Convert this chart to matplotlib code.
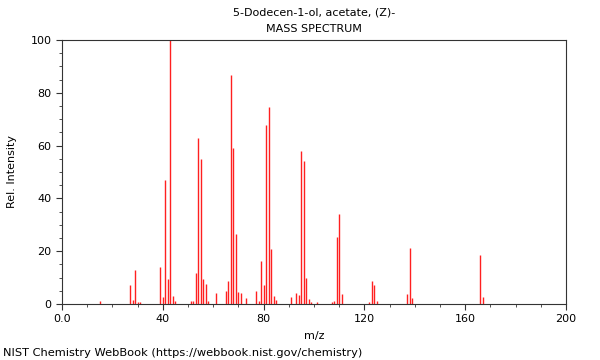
import matplotlib
matplotlib.use('Agg')
import matplotlib.pyplot as plt
from matplotlib.ticker import MultipleLocator

# peaks
mz = [15, 27, 28, 29, 30, 31, 39, 40, 41, 42, 43, 44, 45,
      51, 52, 53, 54, 55, 56, 57, 58, 61, 65, 66, 67, 68, 69, 70, 71, 73,
      77, 78, 79, 80, 81, 82, 83, 84, 85, 91, 93, 94, 95, 96, 97, 98, 99,
      101, 107, 108, 109, 110, 111, 122, 123, 124, 125, 137, 138, 139,
      166, 167]
intensity = [1.0, 7.2, 1.5, 12.8, 0.8, 0.8, 14.0, 2.8, 47.0, 9.6, 100.0, 3.2, 1.0,
             1.0, 1.0, 11.6, 63.0, 55.0, 9.3, 7.6, 1.0, 4.0, 5.0, 8.7, 86.7, 59.0, 26.4, 4.4, 4.0, 2.2,
             5.0, 1.0, 16.4, 7.2, 67.8, 74.5, 21.0, 3.2, 1.5, 2.6, 4.3, 3.5, 58.0, 54.3, 10.0, 2.0, 0.8,
             0.8, 0.8, 1.0, 25.5, 34.0, 3.9, 0.8, 8.7, 7.2, 1.0, 3.9, 21.3, 2.4,
             18.6, 2.7]

title = "5-Dodecen-1-ol, acetate, (Z)-\nMASS SPECTRUM"
xtick_vals = [0, 40, 80, 120, 160, 200]
xtick_labels = ["0.0", "40", "80", "120", "160", "200"]

fig = plt.figure(figsize=(6, 3.6), dpi=100)
ax = fig.add_axes([0.1033, 0.1556, 0.84, 0.7333])

ax.vlines(mz, 0, intensity, colors='#ff2020', linewidth=1.0)

ax.set_xlim(0, 200)
ax.set_ylim(0, 100)
ax.set_xticks(xtick_vals)
ax.set_xticklabels(xtick_labels)
ax.xaxis.set_minor_locator(MultipleLocator(10))
ax.yaxis.set_major_locator(MultipleLocator(20))
ax.yaxis.set_minor_locator(MultipleLocator(5))
ax.tick_params(labelsize=8, length=4, color='#333333')
ax.tick_params(which='minor', length=2, color='#333333')
for s in ax.spines.values():
    s.set_color('#333333')
    s.set_linewidth(0.8)

ax.set_xlabel("m/z", fontsize=8, labelpad=5)
ax.set_ylabel("Rel. Intensity", fontsize=8, labelpad=10)
ax.set_title(title, fontsize=8, linespacing=1.8)

fig.text(0.005, 0.01, "NIST Chemistry WebBook (https://webbook.nist.gov/chemistry)", fontsize=8.2)

fig.savefig('out.png', dpi=100)
